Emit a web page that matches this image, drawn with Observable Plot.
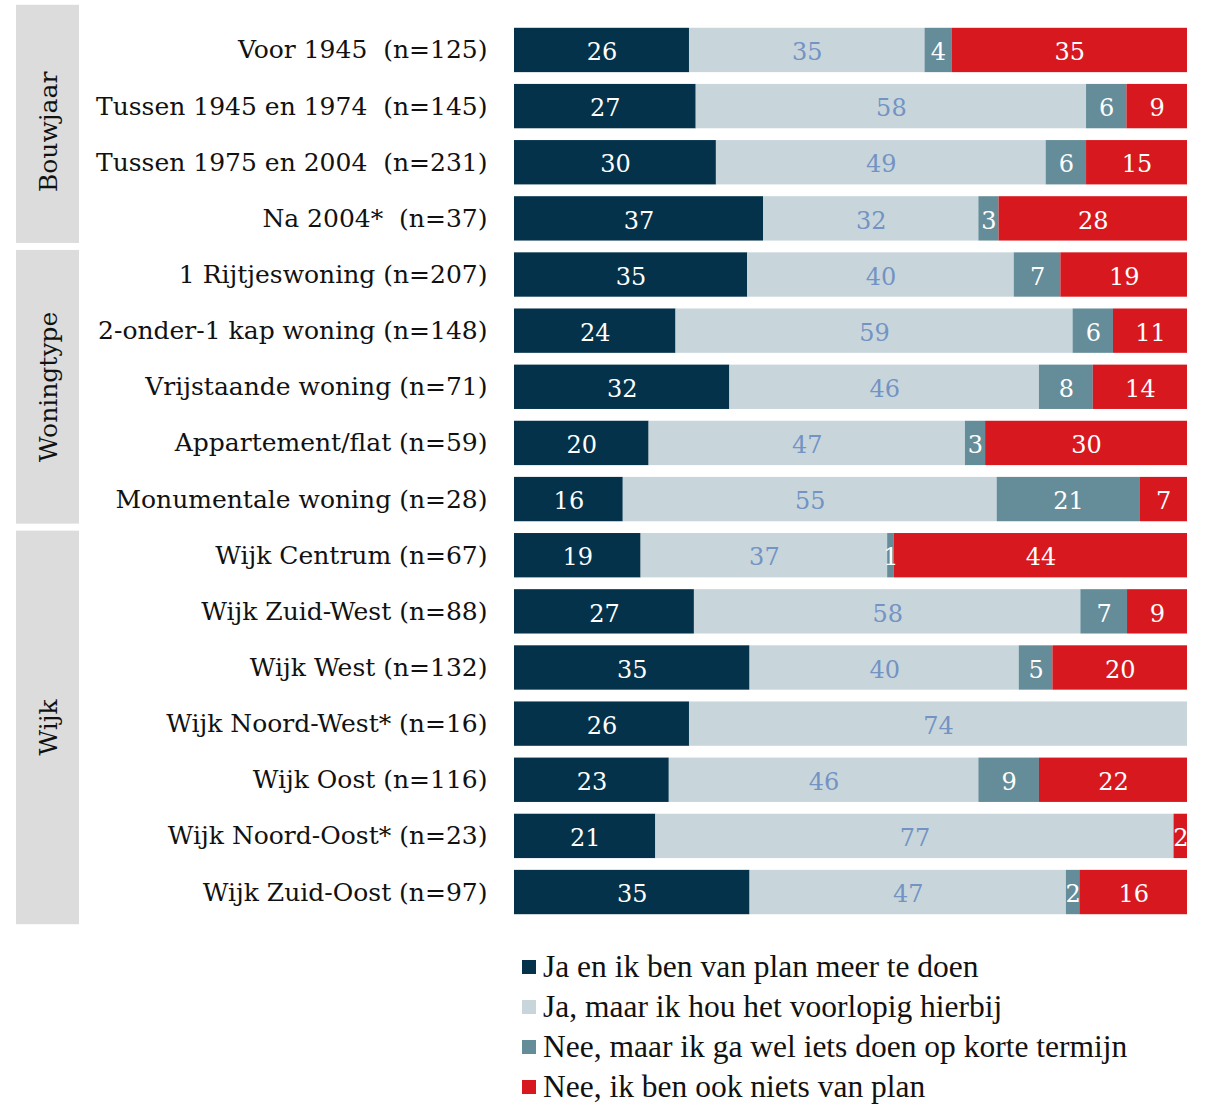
<!DOCTYPE html>
<html>
<head>
<meta charset="utf-8">
<script src="https://cdn.jsdelivr.net/npm/d3@7"></script>
<script src="https://cdn.jsdelivr.net/npm/@observablehq/plot@0.6"></script>
<style>
  html, body { margin: 0; padding: 0; background: #fff; }
  #chart { position: relative; width: 1205px; height: 1109px; overflow: hidden; }
  #chart svg text { white-space: pre; }
  #legend { position: absolute; left: 522px; top: 947px; font-family: "Liberation Serif", serif; font-size: 31.5px; line-height: 1; color: #111; }
  .lg-row { height: 40px; display: flex; align-items: center; white-space: pre; }
  .lg-sw { width: 14px; height: 14px; margin-right: 7px; flex: none; }
</style>
</head>
<body>
<div id="chart"></div>
<script>
const categories = [
  "Voor 1945  (n=125)",
  "Tussen 1945 en 1974  (n=145)",
  "Tussen 1975 en 2004  (n=231)",
  "Na 2004*  (n=37)",
  "1 Rijtjeswoning (n=207)",
  "2-onder-1 kap woning (n=148)",
  "Vrijstaande woning (n=71)",
  "Appartement/flat (n=59)",
  "Monumentale woning (n=28)",
  "Wijk Centrum (n=67)",
  "Wijk Zuid-West (n=88)",
  "Wijk West (n=132)",
  "Wijk Noord-West* (n=16)",
  "Wijk Oost (n=116)",
  "Wijk Noord-Oost* (n=23)",
  "Wijk Zuid-Oost (n=97)"
];
const groupOf = [
  "Bouwjaar","Bouwjaar","Bouwjaar","Bouwjaar",
  "Woningtype","Woningtype","Woningtype","Woningtype","Woningtype",
  "Wijk","Wijk","Wijk","Wijk","Wijk","Wijk","Wijk"
];
const seriesNames = [
  "Ja en ik ben van plan meer te doen",
  "Ja, maar ik hou het voorlopig hierbij",
  "Nee, maar ik ga wel iets doen op korte termijn",
  "Nee, ik ben ook niets van plan"
];
const seriesColors = ["#03324a", "#c8d6dc", "#658c99", "#d7191f"];
const jaMeer     = [26, 27, 30, 37, 35, 24, 32, 20, 16, 19, 27, 35, 26, 23, 21, 35];
const jaHierbij  = [35, 58, 49, 32, 40, 59, 46, 47, 55, 37, 58, 40, 74, 46, 77, 47];
const neeKort    = [ 4,  6,  6,  3,  7,  6,  8,  3, 21,  1,  7,  5,  0,  9,  0,  2];
const neeNiets   = [35,  9, 15, 28, 19, 11, 14, 30,  7, 44,  9, 20,  0, 22,  2, 16];

const seriesValues = [jaMeer, jaHierbij, neeKort, neeNiets];
const data = [];
categories.forEach((c, i) => {
  seriesNames.forEach((s, j) => {
    data.push({label: c, series: s, value: seriesValues[j][i]});
  });
});

const serif = "'DejaVu Serif', Georgia, serif";
const stackOpts = (extra) => Plot.stackX({
  x: "value", y: "label", z: "series", order: seriesNames, offset: "normalize", ...extra
});

const plot = Plot.plot({
  width: 1205,
  height: 930,
  marginLeft: 514,
  marginRight: 18,
  marginTop: 16,
  marginBottom: 4,
  style: {fontFamily: serif, background: "transparent"},
  x: {axis: null},
  y: {domain: categories, padding: 0.21, round: false, axis: null},
  color: {domain: seriesNames, range: seriesColors},
  marks: [
    Plot.barX(data, stackOpts({fill: "series"})),
    Plot.text(data, stackOpts({
      text: d => (d.series === seriesNames[1] && d.value > 0) ? String(d.value) : null,
      fill: "#7393c3", fontSize: 24, dy: 2
    })),
    Plot.text(data, stackOpts({
      text: d => (d.series !== seriesNames[1] && d.value > 0) ? String(d.value) : null,
      fill: "white", fontSize: 24, dy: 2
    })),
    Plot.axisY({tickSize: 0, tickPadding: 27, fontSize: 25, fill: "#111", label: null, fontFamily: serif})
  ]
});

document.getElementById("chart").appendChild(plot);

// group boxes on the left, positioned from Plot's y scale
const y = plot.scale("y");
const bw = y.bandwidth;
const svg = d3.select(plot);
const groupNames = Array.from(new Set(groupOf));
const ranges = groupNames.map(g => {
  const idx = groupOf.map((v, i) => v === g ? i : -1).filter(i => i >= 0);
  return {name: g, first: idx[0], last: idx[idx.length - 1]};
});
const boxes = ranges.map((r, k) => {
  let top, bottom;
  if (k === 0) top = y.apply(categories[r.first]) - 23;
  else {
    const prev = ranges[k - 1];
    const mid = (y.apply(categories[prev.last]) + bw + y.apply(categories[r.first])) / 2;
    top = mid + 3.5;
  }
  if (k === ranges.length - 1) bottom = y.apply(categories[r.last]) + bw + 10;
  else {
    const next = ranges[k + 1];
    const mid = (y.apply(categories[r.last]) + bw + y.apply(categories[next.first])) / 2;
    bottom = mid - 3.5;
  }
  return {name: r.name, top, bottom};
});
const gLayer = svg.insert("g", ":first-child");
gLayer.selectAll("rect").data(boxes).join("rect")
  .attr("x", 16).attr("width", 63)
  .attr("y", d => d.top).attr("height", d => d.bottom - d.top)
  .attr("fill", "#dcdcdc");
gLayer.selectAll("text").data(boxes).join("text")
  .attr("transform", d => `translate(50,${(d.top + d.bottom) / 2 + (d.name === "Bouwjaar" ? 8 : 0)}) rotate(-90)`)
  .attr("text-anchor", "middle").attr("dominant-baseline", "middle")
  .attr("font-family", serif).attr("font-size", 25).attr("fill", "#111")
  .text(d => d.name);

// legend below the chart
const legend = d3.select("#chart").append("div").attr("id", "legend");
const rows = legend.selectAll("div").data(seriesNames.map((s, i) => ({s, c: seriesColors[i]})))
  .join("div").attr("class", "lg-row");
rows.append("div").attr("class", "lg-sw").style("background", d => d.c);
rows.append("span").text(d => d.s);
</script>
</body>
</html>
